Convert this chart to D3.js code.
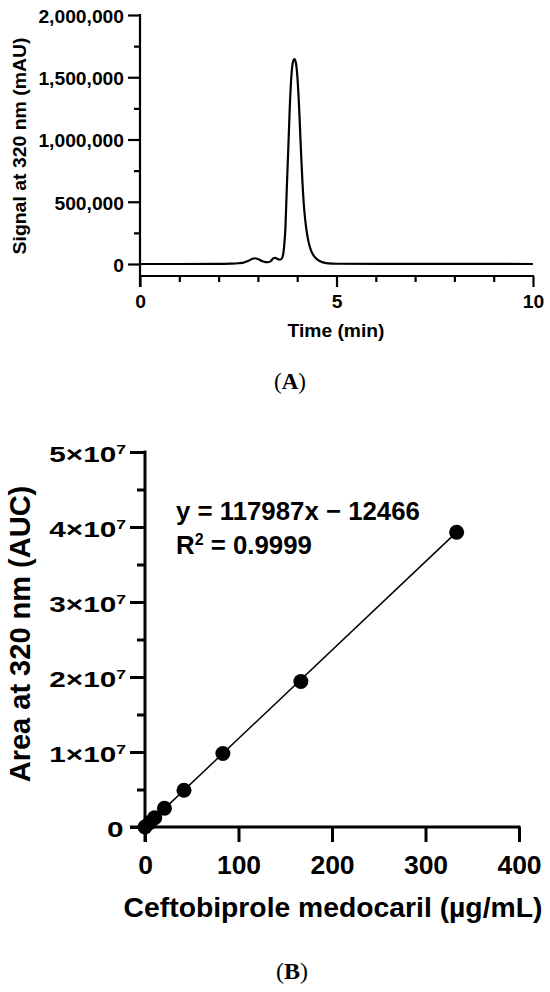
<!DOCTYPE html>
<html>
<head>
<meta charset="utf-8">
<script src="https://cdn.jsdelivr.net/npm/d3@7"></script>
<style>
html,body{margin:0;padding:0;background:#fff;}
svg{display:block;}
</style>
</head>
<body>
<svg id="chart" width="550" height="992"></svg>
<script>
// ---------- Panel A data: chromatogram (time in min, signal in mAU) ----------
const chromTime = [0, 1, 2, 2.3, 2.5, 2.65, 2.75, 2.85, 2.92, 3.0, 3.1, 3.2, 3.26, 3.33, 3.39, 3.44, 3.49, 3.54, 3.59, 3.63, 3.67, 3.70, 3.73, 3.77, 3.81, 3.85, 3.89, 3.93, 3.97, 4.01, 4.05, 4.09, 4.13, 4.17, 4.22, 4.28, 4.35, 4.45, 4.55, 4.65, 4.8, 5.0, 6, 8, 10];
const chromSignal = [0, 0, 1000, 3000, 6000, 12000, 25000, 40000, 46000, 40000, 24000, 15000, 14000, 24000, 45000, 50000, 42000, 36000, 38000, 60000, 150000, 290000, 560000, 900000, 1250000, 1500000, 1620000, 1645000, 1610000, 1480000, 1250000, 950000, 680000, 470000, 310000, 190000, 110000, 55000, 28000, 13000, 5000, 2000, 1000, 1000, 0];
const yTicksA = [0, 500000, 1000000, 1500000, 2000000];
const yMinorA = [250000, 750000, 1250000, 1750000];
const xTicksA = [0, 5, 10];
const xMinorA = [1, 2, 3, 4, 6, 7, 8, 9];

// ---------- Panel B data: calibration ----------
const concentration = [0, 5.2, 10.4, 20.8, 41.7, 83.3, 166.7, 333.3];
const areaAUC = [0, 600000, 1250000, 2500000, 4900000, 9800000, 19400000, 39300000];
const slope = 117987, intercept = -12466;
const equationText = "y = 117987x \u2212 12466";
const r2Text = "0.9999";
const yTicksB = [0, 1e7, 2e7, 3e7, 4e7, 5e7];
const yMinorB = [5e6, 1.5e7, 2.5e7, 3.5e7, 4.5e7];
const xTicksB = [0, 100, 200, 300, 400];

const SANS = '"Liberation Sans", Arial, Helvetica, sans-serif';
const SERIF = '"Liberation Serif", "Times New Roman", serif';

const svg = d3.select('#chart');
svg.append('rect').attr('width', 550).attr('height', 992).attr('fill', '#fff');

function cleanAxis(g) {
  g.attr('font-size', null).attr('font-family', null).attr('fill', null);
  g.select('.domain').remove();
  g.selectAll('line').attr('stroke', '#000');
}

// ================= Panel A =================
const xA = d3.scaleLinear().domain([0, 10]).range([140, 533]);
const yA = d3.scaleLinear().domain([0, 2000000]).range([264, 15]);
const gA = svg.append('g').attr('font-family', SANS).attr('font-weight', 'bold').attr('fill', '#000');
const swA = 2.2;

const yAxA = gA.append('g').attr('transform', 'translate(140,0)')
  .call(d3.axisLeft(yA).tickValues(yTicksA).tickSize(12).tickFormat(d3.format(',')));
cleanAxis(yAxA);
yAxA.selectAll('line').attr('stroke-width', swA);
yAxA.selectAll('text').attr('x', null).attr('dy', null).attr('fill', '#000')
  .attr('font-size', 18).attr('text-anchor', 'end')
  .attr('transform', 'translate(-16,7.4) scale(1.07,1)');
const yAxAm = gA.append('g').attr('transform', 'translate(140,0)')
  .call(d3.axisLeft(yA).tickValues(yMinorA).tickSize(6).tickFormat(''));
cleanAxis(yAxAm);
yAxAm.selectAll('line').attr('stroke-width', swA);
gA.append('line').attr('x1', 140).attr('x2', 140).attr('y1', yA(2000000) - 1).attr('y2', 287)
  .attr('stroke', '#000').attr('stroke-width', swA);

const xAxisY_A = 276;
const xAxA = gA.append('g').attr('transform', `translate(0,${xAxisY_A})`)
  .call(d3.axisBottom(xA).tickValues(xTicksA).tickSize(11));
cleanAxis(xAxA);
xAxA.selectAll('line').attr('stroke-width', swA);
xAxA.selectAll('text').attr('y', null).attr('dy', null).attr('fill', '#000')
  .attr('font-size', 18).attr('text-anchor', 'middle')
  .attr('transform', 'translate(0,32.3) scale(1.07,1)');
const xAxAm = gA.append('g').attr('transform', `translate(0,${xAxisY_A})`)
  .call(d3.axisBottom(xA).tickValues(xMinorA).tickSize(6).tickFormat(''));
cleanAxis(xAxAm);
xAxAm.selectAll('line').attr('stroke-width', swA);
gA.append('line').attr('x1', xA(0)).attr('x2', xA(10) + 1).attr('y1', xAxisY_A).attr('y2', xAxisY_A)
  .attr('stroke', '#000').attr('stroke-width', swA);

const lineA = d3.line().x((d, i) => xA(chromTime[i])).y((d, i) => yA(chromSignal[i])).curve(d3.curveMonotoneX);
gA.append('path').datum(chromSignal).attr('d', lineA)
  .attr('fill', 'none').attr('stroke', '#000').attr('stroke-width', 2.2).attr('stroke-linejoin', 'round');

gA.append('text').attr('text-anchor', 'middle').attr('font-size', 18)
  .attr('transform', 'translate(336,337.3) scale(1.07,1)').text('Time (min)');
gA.append('text').attr('text-anchor', 'middle').attr('font-size', 18)
  .attr('transform', 'translate(26,146) rotate(-90) scale(1.08,1)').text('Signal at 320 nm (mAU)');

const lA = svg.append('text').attr('x', 290).attr('y', 389).attr('text-anchor', 'middle')
  .attr('font-family', SERIF).attr('font-size', 23).attr('fill', '#000');
lA.append('tspan').text('(');
lA.append('tspan').attr('font-weight', 'bold').text('A');
lA.append('tspan').text(')');

// ================= Panel B =================
const xB = d3.scaleLinear().domain([0, 400]).range([145, 519]);
const yB = d3.scaleLinear().domain([0, 5e7]).range([827, 452]);
const gB = svg.append('g').attr('font-family', SANS).attr('font-weight', 'bold').attr('fill', '#000');
const swB = 3;

const yAxB = gB.append('g').attr('transform', 'translate(145,0)')
  .call(d3.axisLeft(yB).tickValues(yTicksB).tickSize(15).tickFormat(''));
cleanAxis(yAxB);
yAxB.selectAll('line').attr('stroke-width', swB);
yAxB.selectAll('.tick').each(function (d) {
  const t = d3.select(this).append('text').attr('fill', '#000').attr('text-anchor', 'end')
    .attr('font-size', 22);
  if (d === 0) {
    t.attr('transform', 'translate(-21.6,9.5) scale(1.35,1)').text('0');
  } else {
    t.attr('transform', 'translate(-19,9) scale(1.35,1)');
    t.append('tspan').text((d / 1e7) + '\u00d710');
    t.append('tspan').attr('font-size', 13).attr('dy', -8).text('7');
  }
});
const yAxBm = gB.append('g').attr('transform', 'translate(145,0)')
  .call(d3.axisLeft(yB).tickValues(yMinorB).tickSize(8).tickFormat(''));
cleanAxis(yAxBm);
yAxBm.selectAll('line').attr('stroke-width', swB);
gB.append('line').attr('x1', 145).attr('x2', 145).attr('y1', yB(5e7) - 1.5).attr('y2', 842)
  .attr('stroke', '#000').attr('stroke-width', swB);

const xAxisY_B = 827;
const xAxB = gB.append('g').attr('transform', `translate(0,${xAxisY_B})`)
  .call(d3.axisBottom(xB).tickValues(xTicksB).tickSize(15));
cleanAxis(xAxB);
xAxB.selectAll('line').attr('stroke-width', swB);
xAxB.selectAll('text').attr('y', null).attr('dy', null).attr('fill', '#000')
  .attr('font-size', 26.5).attr('text-anchor', 'middle')
  .attr('transform', 'translate(0,46.7)');
gB.append('line').attr('x1', 130).attr('x2', xB(400) + 1.5).attr('y1', xAxisY_B).attr('y2', xAxisY_B)
  .attr('stroke', '#000').attr('stroke-width', swB);

const xMax = d3.max(concentration);
gB.append('line')
  .attr('x1', xB(0)).attr('y1', yB(slope * 0 + intercept))
  .attr('x2', xB(xMax)).attr('y2', yB(slope * xMax + intercept))
  .attr('stroke', '#000').attr('stroke-width', 1.5);

gB.append('g').selectAll('circle').data(concentration).join('circle')
  .attr('cx', (d) => xB(d)).attr('cy', (d, i) => yB(areaAUC[i])).attr('r', 7.5).attr('fill', '#000');

gB.append('text').attr('font-size', 25.8).attr('x', 176).attr('y', 520.4).text(equationText);
const r2 = gB.append('text').attr('font-size', 25.8).attr('x', 176).attr('y', 553.5);
r2.append('tspan').text('R');
r2.append('tspan').attr('font-size', 16).attr('dy', -9).text('2');
r2.append('tspan').attr('dy', 9).text(' = ' + r2Text);

gB.append('text').attr('text-anchor', 'middle').attr('font-size', 28.3)
  .attr('x', 333).attr('y', 917).text('Ceftobiprole medocaril (\u00b5g/mL)');
gB.append('text').attr('text-anchor', 'middle').attr('font-size', 29)
  .attr('transform', 'translate(30,634) rotate(-90)').text('Area at 320 nm (AUC)');

const lB = svg.append('text').attr('x', 292).attr('y', 979).attr('text-anchor', 'middle')
  .attr('font-family', SERIF).attr('font-size', 24).attr('fill', '#000');
lB.append('tspan').text('(');
lB.append('tspan').attr('font-weight', 'bold').text('B');
lB.append('tspan').text(')');
</script>
</body>
</html>
